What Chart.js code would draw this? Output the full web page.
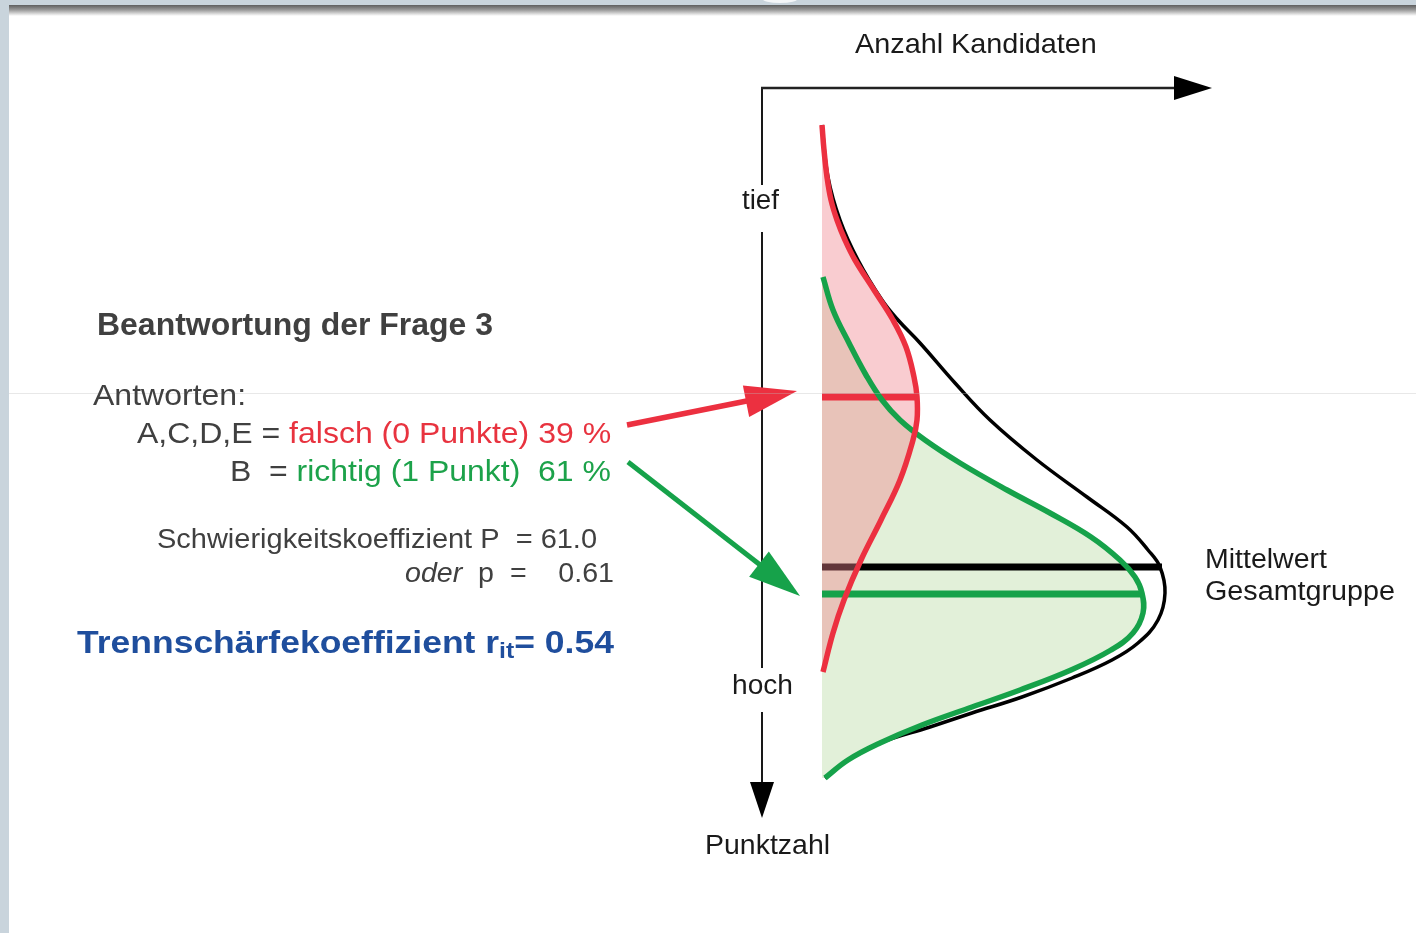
<!DOCTYPE html>
<html lang="de">
<head>
<meta charset="utf-8">
<title>Beantwortung der Frage 3</title>
<script src="https://cdn.jsdelivr.net/npm/chart.js@4.4.1/dist/chart.umd.min.js"></script>
<style>
  html, body { margin: 0; padding: 0; background: #fff; }
  body { width: 1416px; height: 933px; position: relative; overflow: hidden; font-family: "Liberation Sans", Arial, sans-serif; }
  #frame_left { position: absolute; left: 0; top: 0; width: 9px; height: 933px; background: #c9d4dc; }
  #frame_top { position: absolute; left: 0; top: 0; width: 1416px; height: 5px; background: #c9d4dc; }
  #frame_shade { position: absolute; left: 9px; top: 5px; width: 1407px; height: 11px; background: linear-gradient(#5e5e5e, #9a9a9a 45%, #e4e4e4 85%, #fff); }
  #frame_bump { position: absolute; left: 762px; top: -6px; width: 36px; height: 9px; border-radius: 50%; background: #f4f6f8; }
  #chart { position: absolute; left: 0; top: 0; }
  .lbl { position: absolute; white-space: nowrap; line-height: 1; transform-origin: 0 0; color: #1a1a1a; font-size: 28px; }
  .grey { color: #404040; }
  .red { color: #e8333f; }
  .green { color: #1ca24a; }
  .blue { color: #1f4e9d; font-weight: bold; }
  .sub { font-size: 0.7em; position: relative; top: 0.25em; }
</style>
</head>
<body>
<div id="frame_left"></div>
<div id="frame_top"></div>
<div id="frame_shade"></div>
<div id="frame_bump"></div>
<canvas id="chart" width="1416" height="933"></canvas>

<div class="lbl grey" data-x="97" data-base="335" data-w="396" style="font-size:31px;font-weight:bold">Beantwortung der Frage 3</div>
<div class="lbl grey" data-x="93" data-base="406" data-w="153" style="font-size:29px">Antworten:</div>
<div class="lbl grey" data-x="137" data-base="443" data-w="474" style="font-size:30px">A,C,D,E = <span class="red">falsch (0 Punkte) 39 %</span></div>
<div class="lbl grey" data-x="230" data-base="481" data-w="381" style="font-size:30px">B&nbsp; = <span class="green">richtig (1 Punkt)&nbsp; 61 %</span></div>
<div class="lbl grey" data-x="157" data-base="549" data-w="440" style="font-size:28px">Schwierigkeitskoeffizient P&nbsp; = 61.0</div>
<div class="lbl grey" data-x="405" data-base="583" data-w="209" style="font-size:28px"><i>oder</i>&nbsp; p&nbsp; = &nbsp;&nbsp; 0.61</div>
<div class="lbl blue" data-x="77" data-base="653" data-w="537" style="font-size:31px">Trennschärfekoeffizient r<span class="sub">it</span>= 0.54</div>

<div class="lbl" data-x="855" data-base="54" data-w="242">Anzahl Kandidaten</div>
<div class="lbl" data-x="742" data-base="210" data-w="37" style="font-size:27px">tief</div>
<div class="lbl" data-x="732" data-base="695" data-w="61" style="font-size:27px">hoch</div>
<div class="lbl" data-x="705" data-base="855" data-w="125">Punktzahl</div>
<div class="lbl" data-x="1205" data-base="569" data-w="122" style="font-size:27px">Mittelwert</div>
<div class="lbl" data-x="1205" data-base="601" data-w="190" style="font-size:27px">Gesamtgruppe</div>

<script>
// Punktzahl (von tief oben nach hoch unten) und Anzahl Kandidaten
const scoreWrong = [3.7, 6.2, 8.9, 11.2, 13.2, 15.2, 17.2, 20.2, 23.2, 25.9, 28.9, 30.9, 33.2, 35.2, 39.2, 43.2, 47.2, 51.2, 54.5, 58.4];
const countWrong = [0, 0.2, 0.5, 0.9, 1.5, 2.3, 3.3, 5.2, 7.1, 8.4, 9.2, 9.5, 9.5, 9.1, 7.8, 5.9, 3.9, 2.2, 1.1, 0.1];

const scoreRight = [18.9, 22.2, 25.5, 28.7, 31.2, 33.2, 35.2, 37.5, 40.2, 42.5, 44.9, 47.2, 48.9, 50.5, 52.5, 54.5, 56.2, 58.2, 60.2, 61.9, 63.7, 65.5, 67.2, 69.0];
const countRight = [0.1, 1.1, 2.7, 4.4, 6.0, 7.8, 10.3, 13.8, 18.5, 22.8, 26.9, 29.8, 31.3, 32.0, 32.1, 31.1, 28.9, 24.9, 19.8, 15.0, 10.0, 5.8, 2.6, 0.3];

const scoreTotal = [3.7, 8.9, 13.2, 17.2, 21.2, 23.2, 25.5, 29.5, 33.2, 37.2, 40.9, 43.9, 46.2, 47.9, 50.5, 53.2, 55.5, 57.2, 59.0, 60.9, 62.5, 63.9, 65.5, 67.2, 69.0];
const countTotal = [0, 0.6, 1.8, 3.6, 6.0, 7.6, 9.8, 13.3, 16.8, 21.5, 26.5, 30.5, 32.6, 33.8, 34.3, 33.6, 31.6, 29.0, 25.0, 20.0, 15.0, 10.8, 5.8, 2.6, 0.3];

// Mittelwerte: falsch, gesamt, richtig
const meanScores = [30.9, 47.9, 50.6];
const meanCounts = [9.5, 34.0, 31.8];

const RED = "#ec3040";
const GREEN = "#16a24a";

const toPoints = (scores, counts) => scores.map((s, i) => ({ x: counts[i], y: s }));
const meanLine = (i) => [{ x: 0, y: meanScores[i] }, { x: meanCounts[i], y: meanScores[i] }];

const curve = (data, color, width, order) => ({
  data, borderColor: color, borderWidth: width, fill: false, tension: 0.4, order
});
const area = (data, color, order) => ({
  data, borderWidth: 0, borderColor: "transparent", backgroundColor: color,
  fill: "origin", tension: 0.4, order
});
const flat = (data, color, order) => ({
  data, borderColor: color, borderWidth: 7, fill: false, tension: 0, order
});

// axes with arrows, gaps behind "tief" / "hoch", and the two pointer arrows
const decor = {
  id: "decor",
  afterDatasetsDraw(chart) {
    const { ctx, chartArea: a, scales: { x, y } } = chart;
    ctx.save();
    ctx.strokeStyle = "#000";
    ctx.fillStyle = "#000";

    // vertical axis (Punktzahl)
    ctx.lineWidth = 1.8;
    const gaps = [[9.7, 14.4], [58.0, 62.4]];
    let from = a.top;
    ctx.beginPath();
    gaps.forEach(([g0, g1]) => {
      ctx.moveTo(a.left, from);
      ctx.lineTo(a.left, y.getPixelForValue(g0));
      from = y.getPixelForValue(g1);
    });
    ctx.moveTo(a.left, from);
    ctx.lineTo(a.left, a.bottom - 34);
    ctx.stroke();
    ctx.beginPath();
    ctx.moveTo(a.left - 12, a.bottom - 36);
    ctx.lineTo(a.left + 12, a.bottom - 36);
    ctx.lineTo(a.left, a.bottom);
    ctx.closePath();
    ctx.fill();

    // horizontal axis (Anzahl Kandidaten)
    ctx.strokeStyle = "#222";
    ctx.lineWidth = 2.4;
    ctx.beginPath();
    ctx.moveTo(a.left - 1, a.top);
    ctx.lineTo(a.right - 36, a.top);
    ctx.stroke();
    ctx.beginPath();
    ctx.moveTo(a.right - 38, a.top - 12);
    ctx.lineTo(a.right - 38, a.top + 12);
    ctx.lineTo(a.right, a.top);
    ctx.closePath();
    ctx.fill();

    // arrows from the text to the mean lines
    const arrow = (x0, y0, x1, y1, color, w) => {
      const ang = Math.atan2(y1 - y0, x1 - x0);
      const len = 52, half = 16;
      const bx = x1 - len * Math.cos(ang), by = y1 - len * Math.sin(ang);
      ctx.strokeStyle = color;
      ctx.fillStyle = color;
      ctx.lineWidth = w;
      ctx.beginPath();
      ctx.moveTo(x0, y0);
      ctx.lineTo(bx + 2 * Math.cos(ang), by + 2 * Math.sin(ang));
      ctx.stroke();
      ctx.beginPath();
      ctx.moveTo(x1, y1);
      ctx.lineTo(bx - half * Math.sin(ang), by + half * Math.cos(ang));
      ctx.lineTo(bx + half * Math.sin(ang), by - half * Math.cos(ang));
      ctx.closePath();
      ctx.fill();
    };
    arrow(627, 425, x.getPixelForValue(-2.5), y.getPixelForValue(meanScores[0]) - 6, RED, 5.5);
    arrow(628, 462, x.getPixelForValue(-2.2), y.getPixelForValue(meanScores[2]) + 2, GREEN, 5);
    ctx.restore();
  },
  afterDraw(chart) {
    const ctx = chart.ctx;
    ctx.save();
    ctx.fillStyle = "rgba(190,190,190,0.35)";
    ctx.fillRect(9, 393, 1407, 1);
    ctx.restore();
  }
};

new Chart(document.getElementById("chart"), {
  type: "line",
  data: {
    datasets: [
      curve(toPoints(scoreWrong, countWrong), RED, 5.5, 1),
      curve(toPoints(scoreRight, countRight), GREEN, 5.5, 2),
      curve(toPoints(scoreTotal, countTotal), "#000", 3.5, 3),
      flat(meanLine(2), GREEN, 4),
      flat(meanLine(0), RED, 5),
      area(toPoints(scoreWrong, countWrong), "rgba(240,130,140,0.41)", 6),
      flat(meanLine(1), "#000", 7),
      area(toPoints(scoreRight, countRight), "#e2f0d9", 8)
    ]
  },
  options: {
    indexAxis: "y",
    responsive: false,
    animation: false,
    devicePixelRatio: 1,
    layout: { padding: { left: 762, right: 1416 - 1212, top: 88, bottom: 933 - 818 } },
    scales: {
      x: { type: "linear", min: -6, max: 39, display: false },
      y: { type: "linear", min: 0, max: 73, reverse: true, display: false }
    },
    elements: { point: { radius: 0, hoverRadius: 0 }, line: { borderCapStyle: "butt" } },
    plugins: { legend: { display: false }, tooltip: { enabled: false } }
  },
  plugins: [decor]
});

// place text labels by left edge, baseline and measured width
document.querySelectorAll(".lbl").forEach((el) => {
  const fs = parseFloat(getComputedStyle(el).fontSize);
  el.style.left = el.dataset.x + "px";
  el.style.top = (el.dataset.base - 0.8465 * fs) + "px";
  const w = el.getBoundingClientRect().width;
  el.style.transform = "scaleX(" + (el.dataset.w / w).toFixed(3) + ")";
});
</script>
</body>
</html>
